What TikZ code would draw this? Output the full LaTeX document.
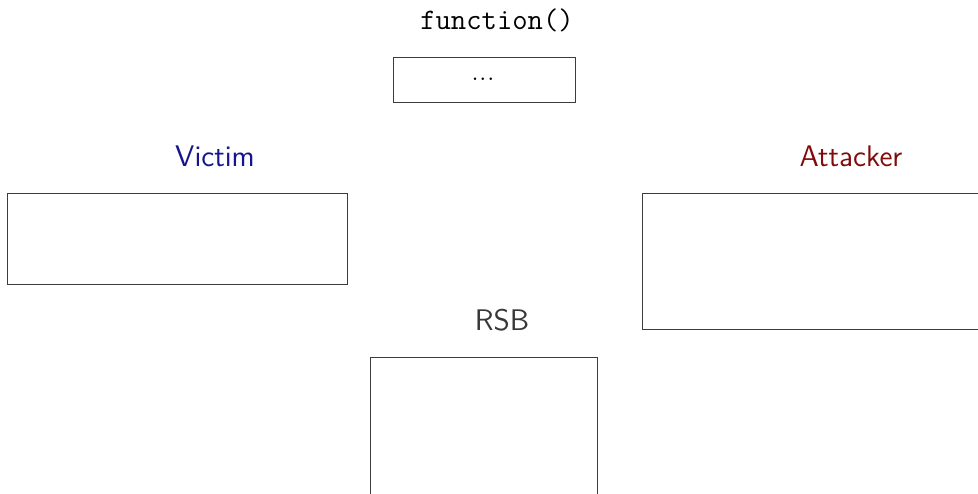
\documentclass[tikz,border=0pt]{standalone}
\usepackage{xcolor}
\definecolor{victimblue}{RGB}{20,20,140}
\definecolor{attackred}{RGB}{130,10,10}
\definecolor{rsbgray}{RGB}{55,55,55}
\definecolor{boxline}{RGB}{60,60,60}
\begin{document}
\begin{tikzpicture}[x=0.5pt,y=-0.5pt,
  panel/.style={draw=boxline,line width=0.5pt,rectangle,inner sep=0pt,outer sep=0pt},
  title/.style={font=\fontsize{14.9}{18}\selectfont\sffamily,inner sep=0pt},
  codetitle/.style={font=\fontsize{14.9}{18}\selectfont\ttfamily,inner sep=0pt}]
  \useasboundingbox (0,0) rectangle (978,493);
  \clip (0,0) rectangle (978,493);
  % top function
  \node[codetitle] (fn) at (497,20) {function()};
  \node[panel,minimum width=91pt,minimum height=22.5pt] (fnbox) at (484,79.5) {};
  \node[inner sep=0pt,font=\fontsize{13}{15}\selectfont] (dots) at (483,79.5) {.\kern0.4pt.\kern0.4pt.};
  % victim
  \node[title,text=victimblue] (victim) at (215,156) {Victim};
  \node[panel,minimum width=170pt,minimum height=45.5pt] (victimbox) at (177,238.5) {};
  % attacker
  \node[title,text=attackred] (attacker) at (851,156) {Attacker};
  \node[panel,minimum width=179pt,minimum height=68pt] (attackerbox) at (821,261) {};
  % RSB
  \node[title,text=rsbgray] (rsb) at (502,320) {RSB};
  \node[panel,minimum width=113.5pt,minimum height=78pt] (rsbbox) at (483.5,435) {};
\end{tikzpicture}
\end{document}
